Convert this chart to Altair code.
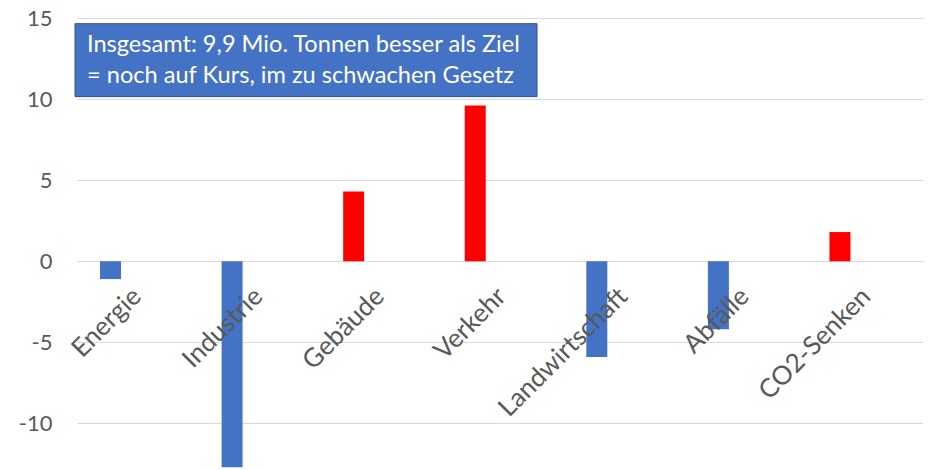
import altair as alt
import pandas as pd
import json

categories = ["Energie", "Industrie", "Gebäude", "Verkehr", "Landwirtschaft", "Abfälle", "CO2-Senken"]
values = [-1.1, -12.7, 4.3, 9.6, -5.9, -4.2, 1.8]
y_ticks = [-10, -5, 0, 5, 10, 15]

note_lines = ["Insgesamt: 9,9 Mio. Tonnen besser als Ziel", "= noch auf Kurs, im zu schwachen Gesetz"]
note_line_y = [12.9, 11.0]
note_box = {"top": 14.65, "bottom": 10.15}

df = pd.DataFrame({"idx": list(range(len(categories))), "cat": categories, "v": values})
box_df = pd.DataFrame({"y1": [note_box["top"]], "y2": [note_box["bottom"]]})
txt_df = pd.DataFrame({"t": note_lines, "ty": note_line_y})

FONT = "Lato"
GRAY = "#595959"

yscale = alt.Scale(domain=[-12.75, 15], nice=False, zero=False)
xscale = alt.Scale(domain=[-0.2756, 6.683], nice=False, zero=False, padding=0)

bars = alt.Chart(df).mark_bar(size=21).encode(
    x=alt.X(
        "idx:Q",
        scale=xscale,
        axis=alt.Axis(
            title=None, domain=False, ticks=False, grid=False,
            values=list(range(len(categories))),
            labelExpr=json.dumps(categories) + "[datum.value]",
            labelAngle=-45, labelAlign="right", labelBaseline="middle",
            labelPadding=31, labelOffset=26,
            labelFont=FONT, labelFontSize=26, labelColor=GRAY,
            labelOverlap=False, labelLimit=0, labelFlush=False, offset=-207,
            zindex=1,
        ),
    ),
    y=alt.Y(
        "v:Q", scale=yscale,
        axis=alt.Axis(
            title=None, domain=False, ticks=False, values=y_ticks,
            labelExpr="'' + datum.value",
            labelFont=FONT, labelFontSize=22, labelColor=GRAY, labelPadding=25,
            gridColor="#D9D9D9", gridWidth=1,
        ),
    ),
    color=alt.condition(alt.datum.v < 0, alt.value("#4472C4"), alt.value("#FF0000")),
)

box = alt.Chart(box_df).mark_rect(fill="#4472C4", stroke="#2F528F", strokeWidth=1).encode(
    x=alt.value(-2),
    x2=alt.value(460),
    y=alt.Y("y1:Q", scale=yscale, title=None),
    y2="y2:Q",
)

txt = alt.Chart(txt_df).mark_text(
    align="left", baseline="alphabetic", font=FONT, fontSize=23.6, color="white"
).encode(
    x=alt.value(10),
    y=alt.Y("ty:Q", scale=yscale, title=None),
    text="t:N",
)

chart = alt.layer(bars, box, txt).properties(
    width=846, height=450,
    autosize=alt.AutoSizeParams(type="none"),
    padding={"left": 69, "top": 10, "right": 0, "bottom": 0},
    background="white",
).configure_view(stroke=None)

chart.save("out.html", embed_options={"renderer": "svg", "actions": False})
